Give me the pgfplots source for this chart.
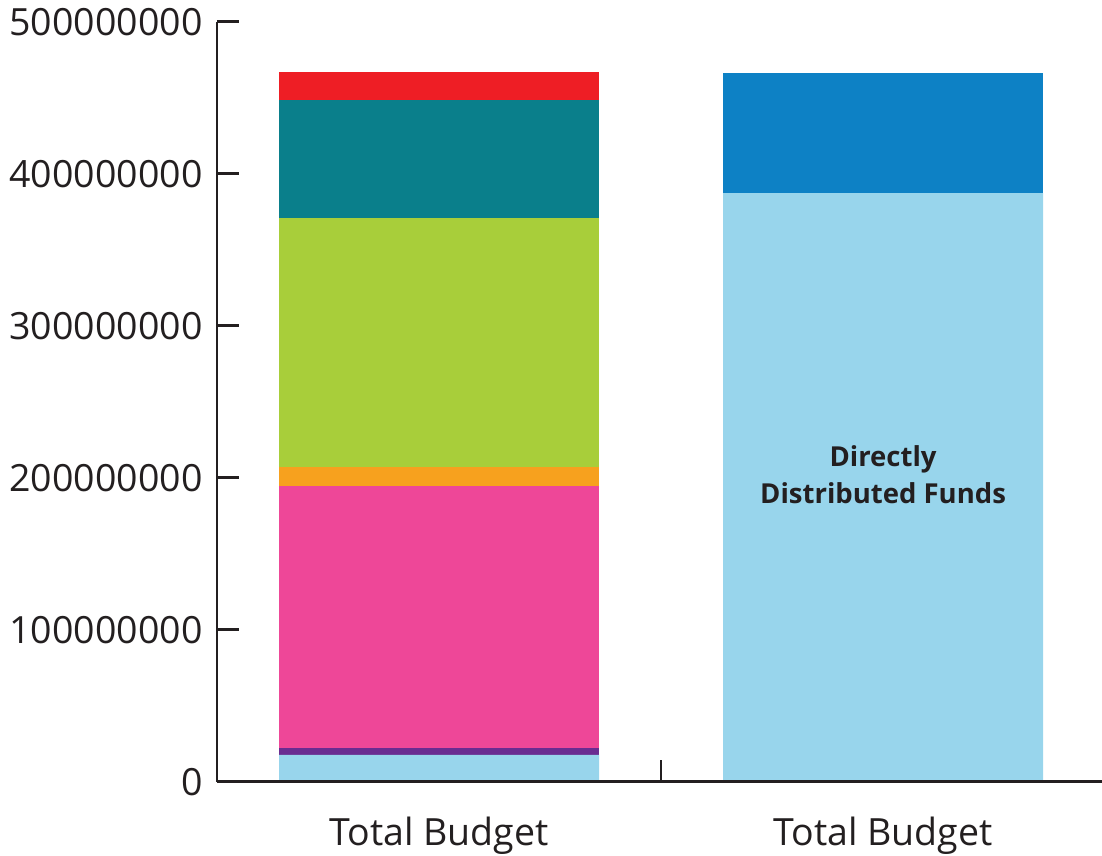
\documentclass[border=0pt]{standalone}
\usepackage{fontspec}
\setmainfont{Open Sans}
\usepackage{pgfplots}
\pgfplotsset{compat=1.18}
\definecolor{axcol}{HTML}{231F20}
\definecolor{lblue}{HTML}{98D5EC}
\definecolor{purp}{HTML}{6A2C91}
\definecolor{pink}{HTML}{EE4798}
\definecolor{orng}{HTML}{F7A11E}
\definecolor{lgreen}{HTML}{A8CE3A}
\definecolor{teal2}{HTML}{0A7F8B}
\definecolor{red2}{HTML}{EE1E25}
\definecolor{dblue}{HTML}{0D81C5}
\begin{document}
\begin{tikzpicture}
\begin{axis}[
  at={(0pt,0pt)}, anchor=south west,
  scale only axis, width=885pt, height=760pt,
  ybar stacked, bar width=320pt,
  xmin=-0.5, xmax=1.493,
  ymin=0, ymax=500000000,
  axis lines=left,
  axis line style={-, draw=axcol, line width=2.6pt},
  tick align=inside,
  tick style={draw=axcol, line width=2.6pt},
  major tick length=22pt,
  ytick={0,100000000,200000000,300000000,400000000,500000000},
  yticklabels={0,100000000,200000000,300000000,400000000,500000000},
  scaled y ticks=false,
  yticklabel style={xshift=-11pt},
  xtick={0.5}, xticklabels={},
  extra x ticks={0,1},
  extra x tick labels={Total Budget,Total Budget},
  extra x tick style={major tick length=0pt, tick style={draw=none},
     xticklabel style={yshift=-32pt}},
  tick label style={font=\fontsize{37.5}{44}\selectfont, text=axcol},
  axis on top,
  every axis plot/.append style={draw=none},
  after end axis/.code={
    \node[align=center, text=axcol, font=\fontsize{27.5}{36.6}\selectfont\bfseries]
      at (axis cs:1,201800000) {Directly\\Distributed Funds};
  },
]
\addplot[fill=lblue] coordinates {(0,17600000) (1,387300000)};
\addplot[fill=purp] coordinates {(0,4600000) (1,0)};
\addplot[fill=pink] coordinates {(0,172300000) (1,0)};
\addplot[fill=orng] coordinates {(0,12500000) (1,0)};
\addplot[fill=lgreen] coordinates {(0,163900000) (1,0)};
\addplot[fill=teal2] coordinates {(0,77600000) (1,0)};
\addplot[fill=red2] coordinates {(0,18400000) (1,0)};
\addplot[fill=dblue] coordinates {(0,0) (1,79000000)};
\end{axis}
\pgfresetboundingbox
\path[use as bounding box] (-217pt,-73.3pt) rectangle (885pt,781.7pt);
\end{tikzpicture}
\end{document}
